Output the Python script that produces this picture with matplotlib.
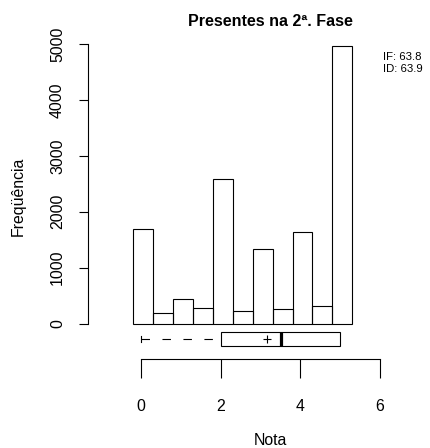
import matplotlib
matplotlib.use('Agg')
import matplotlib.pyplot as plt
from matplotlib.patches import Rectangle

plt.rcParams['font.family'] = ['Liberation Sans', 'DejaVu Sans']
plt.rcParams['lines.scale_dashes'] = False

# dados
notas = [0, 0.5, 1, 1.5, 2, 2.5, 3, 3.5, 4, 4.5, 5]
freq = [1690, 190, 430, 285, 2590, 220, 1335, 256, 1646, 322, 4960]
y_ticks = [0, 1000, 2000, 3000, 4000, 5000]
x_ticks = [0, 2, 4, 6]
# resumo do boxplot: min, q1, mediana, q3, max, media
box_min, box_q1, box_med, box_q3, box_max, box_media = 0, 2, 3.5, 5, 5, 3.17
indices = ['IF: 63.8', 'ID: 63.9']

W, H = 431, 448
fig = plt.figure(figsize=(W / 100, H / 100), dpi=100)


def rect(left, top, right, bottom):
    return [left / W, 1 - bottom / H, (right - left) / W, (bottom - top) / H]


PXU = 39.8  # pixels por unidade de nota
L, R = 88, 410
FS = 11.4
LW = 0.8

# histograma
ax = fig.add_axes(rect(L, 40, R, 330))
ax.bar(notas, freq, width=0.5, fill=False, edgecolor='black', linewidth=LW)
x0 = 143.3
ax.set_xlim((L - x0) / PXU, (R - x0) / PXU)
ax.set_ylim(-(330 - 323.5) / 0.05588, (323.5 - 40) / 0.05588)
for s in ['top', 'right', 'bottom']:
    ax.spines[s].set_visible(False)
ax.spines['left'].set_bounds(0, 5000)
ax.set_xticks([])
ax.set_yticks(y_ticks)
ax.set_yticklabels([str(v) for v in y_ticks], rotation=90, va='center', fontsize=FS)
ax.tick_params(axis='y', length=6.5, pad=10)
ax.patch.set_visible(False)

# boxplot + eixo inferior
x1 = 141.3
axa = fig.add_axes(rect(L, 325, R, 359))
axa.set_xlim((L - x1) / PXU, (R - x1) / PXU)
axa.set_ylim(0, 34)
yc = 20
axa.add_patch(Rectangle((box_q1, yc - 7), box_q3 - box_q1, 14, fill=False,
                        edgecolor='black', linewidth=LW))
axa.plot([box_min, box_q1], [yc, yc], color='black', linewidth=LW,
         linestyle=(0, (6.1, 9.0)))
axa.plot([box_min, box_min], [yc - 3, yc + 3], color='black', linewidth=LW)
axa.plot([box_med, box_med], [yc - 7, yc + 7], color='black', linewidth=2.3,
         solid_capstyle='butt')
axa.plot([box_media], [yc], marker='+', color='black', markersize=5.5,
         markeredgewidth=LW)
for s in ['top', 'right', 'left']:
    axa.spines[s].set_visible(False)
axa.spines['bottom'].set_bounds(0, 6)
axa.set_yticks([])
axa.set_xticks(x_ticks)
axa.set_xticklabels([str(v) for v in x_ticks], fontsize=FS)
axa.tick_params(axis='x', length=13.7, pad=15)
axa.patch.set_visible(False)

fig.text(270 / W, 1 - 21 / H, 'Presentes na 2ª. Fase', ha='center', va='center',
         fontsize=11.5, fontweight='bold')
fig.text(270 / W, 1 - 440 / H, 'Nota', ha='center', va='center', fontsize=FS)
fig.text(18 / W, 1 - 196 / H, 'Freqüência', ha='center', va='center', rotation=90,
         fontsize=FS)
for i, t in enumerate(indices):
    fig.text(383 / W, 1 - (57 + 12.5 * i) / H, t, ha='left', va='center', fontsize=8.2)

fig.savefig('out.png', dpi=100)
